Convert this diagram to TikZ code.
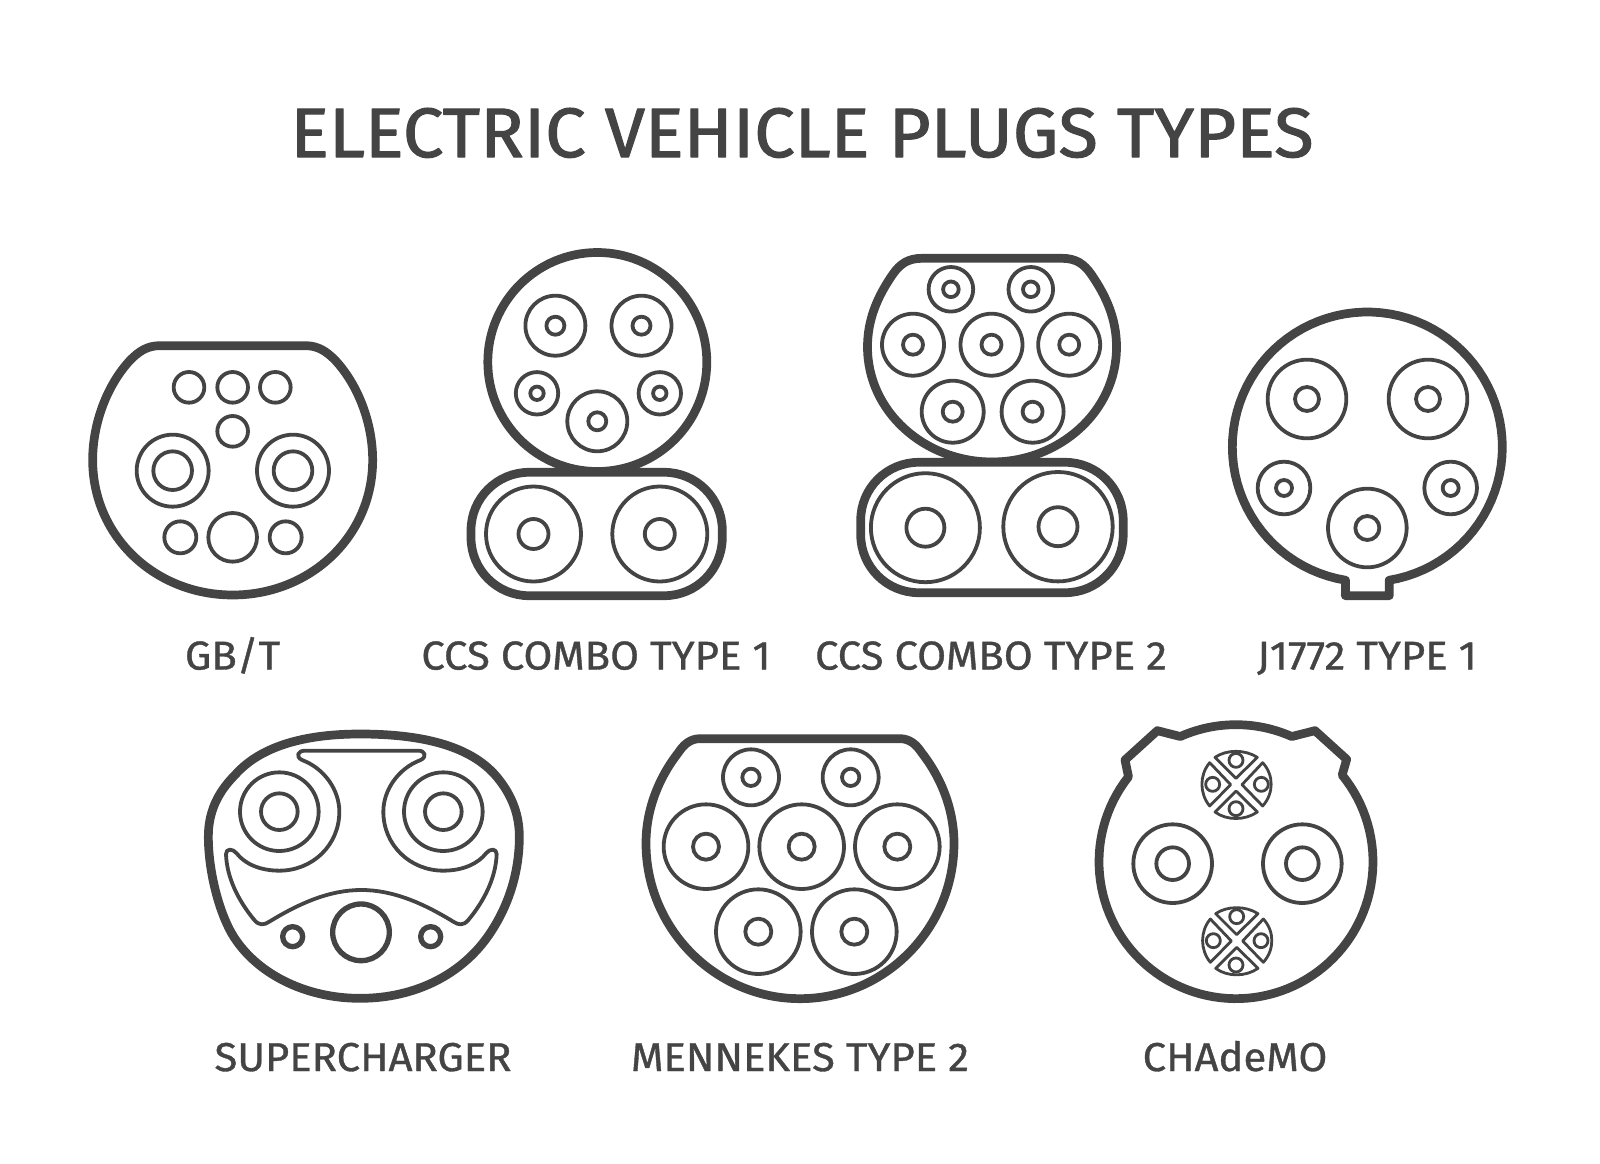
\documentclass[tikz,border=0pt]{standalone}
\usepackage{fontspec}
\setmainfont[FakeStretch=1.04, FakeBold=0.9]{Fira Sans}
\newfontfamily\headfont[FakeStretch=1.035, FakeBold=1.6]{Fira Sans}
\definecolor{plugline}{HTML}{444444}

\begin{document}
\begin{tikzpicture}[
    x=0.025cm,
    y=-0.025cm,
    line join=round,
    shell/.style={draw=plugline, line width=6.2pt},
    pin/.style={draw=plugline, line width=2.7pt},
    finepin/.style={draw=plugline, line width=2pt},
    heavypin/.style={draw=plugline, line width=3.8pt},
    plugname/.style={anchor=base, text=plugline, font=\fontsize{28.6}{32}\selectfont}
]
\useasboundingbox (0,0) rectangle (1600,1164);

% Title
\node [anchor=base, text=plugline, font=\headfont\fontsize{49.7}{54}\selectfont] (title) at (802,157) {ELECTRIC VEHICLE PLUGS TYPES};

% GB/T
\begin{scope}[shift={(70,320)}, scale=1/3]
    \draw [shell] (270,77) -- (706,77) .. controls (745,77) and (770,95) .. (795,120)
        .. controls (865,195) and (908,310) .. (908,420)
        .. controls (908,650) and (720,825) .. (488,825)
        .. controls (256,825) and (68,650) .. (68,420)
        .. controls (68,310) and (111,195) .. (181,120)
        .. controls (206,95) and (231,77) .. (270,77) -- cycle;
    \draw [pin] (357,202) circle [radius=46] (488,202) circle [radius=46] (616,202) circle [radius=46];
    \draw [pin] (488,334) circle [radius=46];
    \draw [pin] (308,452) circle [radius=108] (308,452) circle [radius=58];
    \draw [pin] (669,452) circle [radius=108] (669,452) circle [radius=58];
    \draw [pin] (331,652) circle [radius=48] (488,652) circle [radius=73] (647,652) circle [radius=48];
\end{scope}
\node [plugname] (gbtname) at (232.6,669.5) {GB/T};

% CCS Combo Type 1
\draw [shell] (597.3,362) circle [radius=109.5];
\draw [shell, rounded corners=1.45cm, fill=white] (471,472.3) rectangle (722.3,595.7);
\draw [pin] (555.4,325.7) circle [radius=30] (555.4,325.7) circle [radius=9];
\draw [pin] (641.5,325.7) circle [radius=30] (641.5,325.7) circle [radius=9];
\draw [pin] (537,393.3) circle [radius=21.2] (537,393.3) circle [radius=6.7];
\draw [pin] (659.8,393.3) circle [radius=21.2] (659.8,393.3) circle [radius=6.7];
\draw [pin] (597.3,421.3) circle [radius=30] (597.3,421.3) circle [radius=9];
\draw [pin] (533.5,534) circle [radius=47.5] (533.5,534) circle [radius=15];
\draw [pin] (659.8,534) circle [radius=47.5] (659.8,534) circle [radius=15];
\node [plugname] (comboonename) at (596,669.5) {CCS COMBO TYPE 1};

% CCS Combo Type 2
\draw [shell] (922,258.3) -- (1062,258.3) .. controls (1076,258.3) and (1084,264) .. (1091,274)
    .. controls (1107,297) and (1116.5,320) .. (1116.5,347)
    .. controls (1116.5,412) and (1059,462) .. (992,462)
    .. controls (925,462) and (867.5,412) .. (867.5,347)
    .. controls (867.5,320) and (877,297) .. (893,274)
    .. controls (900,264) and (908,258.3) .. (922,258.3) -- cycle;
\draw [shell, rounded corners=1.45cm, fill=white] (860.7,462.3) rectangle (1123.2,592.7);
\draw [pin] (950.9,289.3) circle [radius=22.3] (950.9,289.3) circle [radius=7.8];
\draw [pin] (1030.8,289.3) circle [radius=22.3] (1030.8,289.3) circle [radius=7.8];
\draw [pin] (913,344.7) circle [radius=31] (913,344.7) circle [radius=10];
\draw [pin] (991.5,344.7) circle [radius=31] (991.5,344.7) circle [radius=10];
\draw [pin] (1069.2,344.7) circle [radius=31] (1069.2,344.7) circle [radius=10];
\draw [pin] (952.7,411.7) circle [radius=31] (952.7,411.7) circle [radius=10];
\draw [pin] (1032.6,411.7) circle [radius=31] (1032.6,411.7) circle [radius=10];
\draw [pin] (925.4,527.7) circle [radius=54.5] (925.4,527.7) circle [radius=19];
\draw [pin] (1058,526.7) circle [radius=54.7] (1058,526.7) circle [radius=19.5];
\node [plugname] (combotwoname) at (991,669.5) {CCS COMBO TYPE 2};

% J1772 Type 1
\begin{scope}[shift={(1220,300)}, scale=1/3]
    \draw [shell] plot [domain=99.3:440.7, samples=90] ({442+405*cos(\x)}, {441+405*sin(\x)})
        -- (508,887) -- (376,887) -- cycle;
    \draw [pin] (261,297) circle [radius=118] (261,297) circle [radius=36];
    \draw [pin] (624,297) circle [radius=118] (624,297) circle [radius=36];
    \draw [pin] (192,564) circle [radius=79] (192,564) circle [radius=24];
    \draw [pin] (692,564) circle [radius=79] (692,564) circle [radius=24];
    \draw [pin] (442,684) circle [radius=118] (442,684) circle [radius=36];
\end{scope}
\node [plugname] (jplugname) at (1367,669.5) {J1772 TYPE 1};

% Supercharger
\begin{scope}[shift={(180,710)}, scale=1/3]
    \draw [shell] (540,72) .. controls (720,72) and (870,105) .. (950,200)
        .. controls (1000,260) and (1018,320) .. (1018,380)
        .. controls (1018,480) and (990,580) .. (930,670)
        .. controls (850,790) and (710,865) .. (540,865)
        .. controls (375,865) and (225,790) .. (155,670)
        .. controls (115,600) and (85,480) .. (85,380)
        .. controls (85,310) and (110,250) .. (165,195)
        .. controls (240,110) and (370,72) .. (540,72) -- cycle;
    \draw [pin] (375,122) -- (715,122) .. controls (735,122) and (742,140) .. (722,150)
        .. controls (655,175) and (610,240) .. (610,305)
        .. controls (610,405) and (690,482) .. (790,482)
        .. controls (850,482) and (895,460) .. (918,430)
        .. controls (930,415) and (950,415) .. (950,432)
        .. controls (948,500) and (915,570) .. (865,630)
        .. controls (850,648) and (835,645) .. (820,635)
        .. controls (730,580) and (640,540) .. (544,540)
        .. controls (448,540) and (358,580) .. (268,635)
        .. controls (253,645) and (238,648) .. (223,630)
        .. controls (173,570) and (140,500) .. (138,432)
        .. controls (138,415) and (158,415) .. (170,430)
        .. controls (193,460) and (238,482) .. (298,482)
        .. controls (398,482) and (478,405) .. (478,305)
        .. controls (478,240) and (433,175) .. (366,150)
        .. controls (346,140) and (353,122) .. (375,122) -- cycle;
    \draw [pin] (298,305) circle [radius=118] (298,305) circle [radius=55];
    \draw [pin] (790,305) circle [radius=118] (790,305) circle [radius=55];
    \draw [heavypin] (543,667) circle [radius=85];
    \draw [heavypin] (338,680) circle [radius=30] (752,680) circle [radius=30];
\end{scope}
\node [plugname] (supername) at (363,1071) {SUPERCHARGER};

% Mennekes Type 2
\begin{scope}[shift={(640,720)}, scale=1/3]
    \draw [shell] (180,56) -- (780,56) .. controls (810,56) and (830,75) .. (845,98)
        .. controls (905,175) and (942,270) .. (942,370)
        .. controls (942,625) and (735,836) .. (480,836)
        .. controls (225,836) and (18,625) .. (18,370)
        .. controls (18,270) and (55,175) .. (115,98)
        .. controls (130,75) and (150,56) .. (180,56) -- cycle;
    \draw [pin] (333,172) circle [radius=84] (333,172) circle [radius=26];
    \draw [pin] (632,172) circle [radius=84] (632,172) circle [radius=26];
    \draw [pin] (198,380) circle [radius=127] (198,380) circle [radius=39];
    \draw [pin] (485,380) circle [radius=127] (485,380) circle [radius=39];
    \draw [pin] (772,380) circle [radius=127] (772,380) circle [radius=39];
    \draw [pin] (355,635) circle [radius=127] (355,635) circle [radius=39];
    \draw [pin] (643,635) circle [radius=127] (643,635) circle [radius=39];
\end{scope}
\node [plugname] (mennekesname) at (800,1071) {MENNEKES TYPE 2};

% CHAdeMO
\begin{scope}[shift={(1080,710)}, scale=1/3]
    \draw [shell] plot [domain=-39.2:218.3, samples=90] ({468+411*cos(\x)}, {455+411*sin(\x)})
        -- (135,150) -- (232,62)
        -- plot [domain=-114:-66, samples=20] ({468+411*cos(\x)}, {455+411*sin(\x)})
        -- (705,62) -- (800,148) -- cycle;
    \draw [pin] (278,461) circle [radius=118] (278,461) circle [radius=49];
    \draw [pin] (667,461) circle [radius=118] (667,461) circle [radius=49];
    % upper contact cluster
    \draw [finepin] (405,142) .. controls (440,118) and (495,118) .. (532,142) -- (468,205) -- cycle;
    \draw [finepin] (405,306) .. controls (440,332) and (495,332) .. (532,306) -- (468,243) -- cycle;
    \draw [finepin] (389,158) .. controls (358,195) and (358,250) .. (389,288) -- (452,224) -- cycle;
    \draw [finepin] (548,158) .. controls (582,195) and (582,250) .. (548,288) -- (486,224) -- cycle;
    \draw [finepin] (468,151) circle [radius=21] (468,296) circle [radius=21];
    \draw [finepin] (398,223) circle [radius=21] (544,223) circle [radius=21];
    % lower contact cluster
    \draw [finepin] (407,611) .. controls (442,587) and (497,587) .. (534,611) -- (470,674) -- cycle;
    \draw [finepin] (407,775) .. controls (442,801) and (497,801) .. (534,775) -- (470,712) -- cycle;
    \draw [finepin] (391,627) .. controls (360,664) and (360,719) .. (391,757) -- (454,693) -- cycle;
    \draw [finepin] (550,627) .. controls (584,664) and (584,719) .. (550,757) -- (488,693) -- cycle;
    \draw [finepin] (470,620) circle [radius=21] (468,765) circle [radius=21];
    \draw [finepin] (400,692) circle [radius=21] (543,692) circle [radius=21];
\end{scope}
\node [plugname] (chademoname) at (1235,1071) {CHAdeMO};

\end{tikzpicture}
\end{document}
